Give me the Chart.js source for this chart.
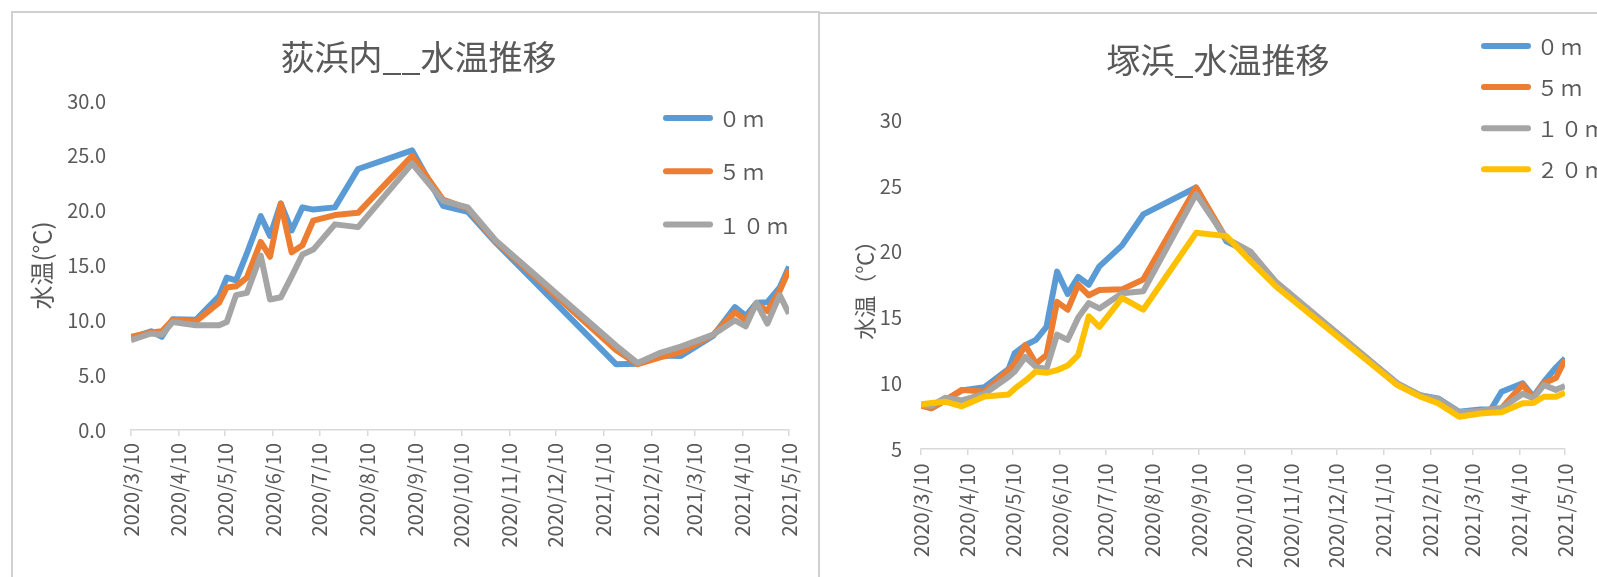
<!DOCTYPE html>
<html>
<head>
<meta charset="utf-8">
<script src="https://cdn.jsdelivr.net/npm/chart.js@4.4.1/dist/chart.umd.min.js"></script>
<style>
  body { margin: 0; background: #fff; overflow: hidden; width: 1597px; height: 577px; position: relative; }
  .rule { position: absolute; background: #d0d0d0; z-index: 10; }
  canvas { position: absolute; }
</style>
</head>
<body>
<canvas id="ogiChart" width="807" height="564" style="left:13px;top:13px"></canvas>
<canvas id="tsukaChart" width="796" height="563" style="left:820px;top:14px"></canvas>
<!-- chart frames -->
<div class="rule" style="left:11px;top:11px;width:809px;height:2px"></div>
<div class="rule" style="left:11px;top:11px;width:2px;height:566px"></div>
<div class="rule" style="left:818px;top:12px;width:779px;height:2px"></div>
<div class="rule" style="left:818px;top:12px;width:2px;height:565px"></div>

<script>
// ---- data ----
const tickLabels = ['2020/3/10', '2020/4/10', '2020/5/10', '2020/6/10', '2020/7/10', '2020/8/10', '2020/9/10',
  '2020/10/10', '2020/11/10', '2020/12/10', '2021/1/10', '2021/2/10', '2021/3/10', '2021/4/10', '2021/5/10'];

const depthLabels = ['０ｍ', '５ｍ', '１０ｍ', '２０ｍ'];

// 荻浜内
const ogiDates = ['2020/3/10', '2020/3/23', '2020/3/30', '2020/4/6', '2020/4/21', '2020/5/6', '2020/5/11', '2020/5/17',
  '2020/5/24', '2020/6/2', '2020/6/8', '2020/6/15', '2020/6/22', '2020/6/29', '2020/7/6', '2020/7/20', '2020/8/4',
  '2020/9/8', '2020/9/28', '2020/10/14', '2020/11/1', '2021/1/18', '2021/2/1', '2021/2/15', '2021/3/1', '2021/3/22',
  '2021/4/5', '2021/4/12', '2021/4/19', '2021/4/26', '2021/5/4', '2021/5/10'];
const ogi0m = [8.4, 9.0, 8.5, 10.1, 10.05, 12.2, 13.9, 13.65, 16.1, 19.5, 17.7, 20.65, 18.2, 20.3, 20.1, 20.3, 23.8,
  25.5, 20.45, 19.9, 17.1, 6.0, 6.05, 6.8, 6.75, 8.6, 11.2, 10.4, 11.6, 11.65, 13.0, 14.9];
const ogi5m = [8.5, 8.9, 9.0, 10.05, 9.9, 11.6, 13.0, 13.1, 13.9, 17.15, 15.8, 20.65, 16.2, 16.85, 19.1, 19.6, 19.8,
  25.0, 21.0, 20.2, 17.2, 7.3, 6.0, 6.6, 7.1, 8.7, 10.75, 10.0, 11.5, 10.85, 12.7, 14.6];
const ogi10m = [8.2, 8.8, 8.7, 9.85, 9.55, 9.55, 9.85, 12.3, 12.5, 15.9, 11.9, 12.1, 14.0, 16.0, 16.45, 18.75, 18.5,
  24.3, 20.9, 20.3, 17.3, 7.7, 6.1, 7.0, 7.6, 8.7, 10.0, 9.45, 11.6, 9.7, 12.3, 10.6];

// 塚浜
const tsukaDates = ['2020/3/10', '2020/3/17', '2020/3/26', '2020/4/6', '2020/4/21', '2020/5/7', '2020/5/11', '2020/5/18',
  '2020/5/25', '2020/6/1', '2020/6/8', '2020/6/15', '2020/6/22', '2020/6/29', '2020/7/6', '2020/7/21', '2020/8/4',
  '2020/9/8', '2020/9/28', '2020/10/14', '2020/10/31', '2021/1/19', '2021/2/3', '2021/2/15', '2021/3/1', '2021/3/15',
  '2021/3/22', '2021/3/29', '2021/4/12', '2021/4/19', '2021/4/26', '2021/5/4', '2021/5/10'];
const tsuka0m = [8.35, 8.1, 8.7, 9.45, 9.7, 11.1, 12.3, 12.9, 13.3, 14.3, 18.5, 16.8, 18.1, 17.5, 18.9, 20.5, 22.85,
  24.9, 20.8, 19.9, 17.6, 10.0, 9.1, 8.85, 7.84, 8.0, 8.0, 9.36, 10.0, 8.98, 10.1, 11.2, 11.9];
const tsuka5m = [8.3, 8.1, 8.7, 9.5, 9.35, 11.0, 11.5, 12.9, 11.5, 12.15, 16.2, 15.6, 17.5, 16.7, 17.1, 17.15, 17.9,
  24.9, 21.0, 20.0, 17.6, 9.9, 9.05, 8.7, 7.7, 7.9, 8.0, 8.1, 9.9, 8.86, 10.0, 10.4, 11.8];
const tsuka10m = [8.35, 8.3, 8.9, 8.7, 9.2, 10.5, 10.9, 12.0, 11.25, 11.1, 13.7, 13.3, 15.0, 16.1, 15.7, 16.85, 17.0,
  24.4, 21.0, 20.0, 17.7, 10.0, 9.1, 8.8, 7.8, 7.9, 8.0, 8.1, 9.2, 8.86, 9.87, 9.5, 9.8];
const tsuka20m = [8.4, 8.5, 8.6, 8.25, 9.0, 9.15, 9.6, 10.2, 10.9, 10.8, 11.0, 11.35, 12.15, 15.1, 14.3, 16.5, 15.6,
  21.45, 21.2, 19.3, 17.35, 9.87, 9.0, 8.48, 7.46, 7.7, 7.76, 7.8, 8.48, 8.5, 8.98, 8.98, 9.28];

// ---- style ----
const FONT = "'Noto Sans CJK JP', 'Noto Sans', sans-serif";
const TEXT = '#595959';
const AXIS = '#d9d9d9';
const seriesColors = ['#5B9BD5', '#ED7D31', '#A5A5A5', '#FFC000'];

// days since first tick, so the x axis is a real date scale without an adapter
const dayOf = s => {
  const [y, m, d] = s.split('/').map(Number);
  return (Date.UTC(y, m - 1, d) - Date.UTC(2020, 2, 10)) / 864e5;
};
const tickDays = tickLabels.map(dayOf);

// title + legend drawn over the plot like Excel does
const decor = {
  id: 'decor',
  afterDraw(chart, args, o) {
    const ctx = chart.ctx;
    ctx.save();
    ctx.fillStyle = TEXT;
    ctx.textBaseline = 'middle';
    ctx.textAlign = 'center';
    ctx.font = '34px ' + FONT;
    ctx.fillText(o.title, o.titleX, o.titleY);

    ctx.font = '21px ' + FONT;
    ctx.textAlign = 'left';
    ctx.letterSpacing = '3px';
    chart.data.datasets.forEach((ds, i) => {
      const y = o.legendY + i * o.legendGap;
      ctx.strokeStyle = ds.borderColor;
      ctx.lineWidth = 6;
      ctx.lineCap = 'round';
      ctx.beginPath();
      ctx.moveTo(o.legendX + 3, y);
      ctx.lineTo(o.legendX + 47, y);
      ctx.stroke();
      ctx.fillText(ds.label, o.legendX + 56, y + 1);
    });
    ctx.restore();
  }
};

function buildChart(id, cfg) {
  const days = cfg.dates.map(dayOf);
  const n = cfg.series.length;
  return new Chart(document.getElementById(id), {
    type: 'line',
    data: {
      datasets: cfg.series.map((vals, i) => ({
        label: depthLabels[i],
        data: vals.map((v, j) => ({ x: days[j], y: v })),
        borderColor: seriesColors[i],
        borderWidth: 6,
        borderJoinStyle: 'round',
        pointRadius: 0,
        tension: 0,
        order: n - i
      }))
    },
    options: {
      responsive: false,
      animation: false,
      devicePixelRatio: 1,
      layout: { padding: { left: 0, right: cfg.padRight, top: cfg.padTop, bottom: 0 } },
      plugins: {
        legend: { display: false },
        tooltip: { enabled: false },
        decor: cfg.decor
      },
      scales: {
        x: {
          type: 'linear',
          min: tickDays[0],
          max: tickDays[tickDays.length - 1],
          afterBuildTicks: s => { s.ticks = tickDays.map(v => ({ value: v })); },
          afterFit: s => { s.height = cfg.xHeight; },
          grid: { drawOnChartArea: false, drawTicks: true, tickLength: 6, color: AXIS, lineWidth: 1.5 },
          border: { display: true, color: AXIS, width: 1.5 },
          ticks: {
            autoSkip: false, minRotation: 90, maxRotation: 90, padding: cfg.xTickPad,
            color: TEXT, font: { family: FONT, size: 20 },
            callback: (v, i) => tickLabels[i]
          }
        },
        y: {
          min: cfg.yMin, max: cfg.yMax,
          afterFit: s => { s.width = cfg.yWidth; },
          grid: { display: false, drawTicks: false },
          border: { display: false },
          ticks: {
            stepSize: 5, padding: cfg.yTickPad, color: TEXT, font: { family: FONT, size: 20 },
            callback: v => v.toFixed(cfg.yDecimals)
          },
          title: {
            display: true, text: cfg.yTitle, color: TEXT,
            font: { family: FONT, size: cfg.yTitleSize }, padding: { top: cfg.yTitlePad, bottom: 0 }
          }
        }
      }
    },
    plugins: [decor]
  });
}

buildChart('ogiChart', {
  dates: ogiDates,
  series: [ogi0m, ogi5m, ogi10m],
  padRight: 30, padTop: 88, xHeight: 147, xTickPad: 7,
  yMin: 0, yMax: 30, yDecimals: 1, yWidth: 118, yTickPad: 25,
  yTitle: '水温(℃)', yTitleSize: 24, yTitlePad: 14,
  decor: { title: '荻浜内__水温推移', titleX: 405.5, titleY: 44, legendX: 650, legendY: 105, legendGap: 53.3 }
});

buildChart('tsukaChart', {
  dates: tsukaDates,
  series: [tsuka0m, tsuka5m, tsuka10m, tsuka20m],
  padRight: 51, padTop: 106.5, xHeight: 128, xTickPad: 8.5,
  yMin: 5, yMax: 30, yDecimals: 0, yWidth: 101, yTickPad: 19,
  yTitle: '水温（℃）', yTitleSize: 22, yTitlePad: 31,
  decor: { title: '塚浜_水温推移', titleX: 398, titleY: 46.5, legendX: 661, legendY: 32, legendGap: 41.1 }
});
</script>
</body>
</html>
